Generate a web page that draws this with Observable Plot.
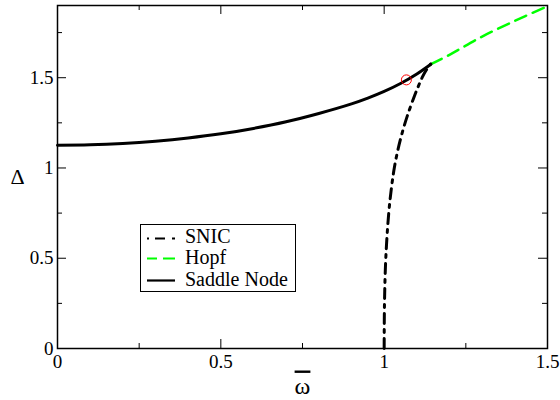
<!DOCTYPE html>
<html>
<head>
<meta charset="utf-8">
<script src="https://cdn.jsdelivr.net/npm/d3@7"></script>
<script src="https://cdn.jsdelivr.net/npm/@observablehq/plot@0.6"></script>
<style>
  body { margin: 0; background: #fff; }
  #chart svg { display: block; }
  #chart svg text { font-family: "Liberation Serif", "Times New Roman", "DejaVu Serif", serif !important; }
</style>
</head>
<body>
<div id="chart"></div>
<script>
// Bifurcation curves in the (omega-bar, Delta) plane
const saddleX = [0, 0.1, 0.2, 0.3, 0.4, 0.5, 0.6, 0.7, 0.8, 0.9, 0.95, 1.0, 1.05, 1.1, 1.143];
const saddleY = [1.126, 1.1285, 1.136, 1.1485, 1.166, 1.189, 1.219, 1.256, 1.302, 1.355, 1.387, 1.424, 1.468, 1.521, 1.575];

const snicX = [1.0, 1.001, 1.005, 1.014, 1.023, 1.031, 1.042, 1.056, 1.073, 1.093, 1.104, 1.116, 1.128, 1.142];
const snicY = [0, 0.25, 0.5, 0.75, 0.9, 1.0, 1.1, 1.2, 1.3, 1.4, 1.45, 1.5, 1.54, 1.575];

const hopfX = [1.143, 1.2, 1.3, 1.4, 1.5, 1.55];
const hopfY = [1.575, 1.627, 1.728, 1.815, 1.895, 1.93];

// Codimension-two point marked on the saddle-node curve
const pointX = [1.068];
const pointY = [1.488];

const xMajor = [0, 0.5, 1, 1.5];
const xMinor = [0.25, 0.75, 1.25];
const yMajor = [0, 0.5, 1, 1.5];
const yMinor = [0.25, 0.75, 1.25, 1.75];

const legendLabels = ["SNIC", "Hopf", "Saddle Node"];

const toRows = (xs, ys) => xs.map((x, i) => ({x, y: ys[i]}));
const saddle = toRows(saddleX, saddleY);
const snic = toRows(snicX, snicY);
const hopf = toRows(hopfX, hopfY);
const point = toRows(pointX, pointY);

const W = 560, H = 400;
const mL = 57, mR = 13, mT = 5, mB = 52;
const innerW = W - mL - mR, innerH = H - mT - mB;
const serif = "'Liberation Serif', 'Times New Roman', 'DejaVu Serif', serif";

const GREEN = "#00ff00";

const plot = Plot.plot({
  width: W,
  height: H,
  marginLeft: mL,
  marginRight: mR,
  marginTop: mT,
  marginBottom: mB,
  style: {fontFamily: serif, fontSize: "19px", color: "black", background: "white", overflow: "visible"},
  x: {domain: [0, 1.5]},
  y: {domain: [0, 1.9]},
  marks: [
    // inward ticks on all four sides
    Plot.tickX(xMajor, {insetTop: innerH - 9, stroke: "black"}),
    Plot.tickX(xMajor, {insetBottom: innerH - 9, stroke: "black"}),
    Plot.tickX(xMinor, {insetTop: innerH - 5, stroke: "black"}),
    Plot.tickX(xMinor, {insetBottom: innerH - 5, stroke: "black"}),
    Plot.tickY(yMajor, {insetRight: innerW - 9, stroke: "black"}),
    Plot.tickY(yMajor, {insetLeft: innerW - 9, stroke: "black"}),
    Plot.tickY(yMinor, {insetRight: innerW - 5, stroke: "black"}),
    Plot.tickY(yMinor, {insetLeft: innerW - 5, stroke: "black"}),
    Plot.axisX({ticks: xMajor, tickSize: 0, tickPadding: 6, tickFormat: d => String(d), label: null}),
    Plot.axisY({ticks: yMajor, tickSize: 0, tickPadding: 4, tickFormat: d => String(d), label: null}),

    Plot.line(hopf, {x: "x", y: "y", stroke: GREEN, strokeWidth: 2.5,
      strokeDasharray: "12,7", curve: "catmull-rom", clip: true}),
    Plot.line(saddle, {x: "x", y: "y", stroke: "black", strokeWidth: 3, curve: "catmull-rom"}),
    Plot.line(snic, {x: "x", y: "y", stroke: "black", strokeWidth: 3,
      strokeDasharray: "10,6,3,6", curve: "catmull-rom"}),
    Plot.dot(point, {x: "x", y: "y", r: 5, stroke: "red", strokeWidth: 1, fill: "none"}),

    Plot.frame({stroke: "black", strokeWidth: 1.5}),

    // axis titles
    Plot.text(["Δ"], {frameAnchor: "left", dx: -40, textAnchor: "middle", lineAnchor: "middle",
      fontSize: 22, fill: "black"}),
    Plot.text(["ω"], {frameAnchor: "bottom", dy: 45, textAnchor: "middle", lineAnchor: "bottom",
      fontSize: 24, fill: "black"})
  ]
});

document.getElementById("chart").appendChild(plot);

// overline on the omega axis title
d3.select(plot).selectAll("text")
  .filter(function() { return this.textContent === "ω"; })
  .style("text-decoration", "overline");

// legend box
const lg = d3.select(plot).append("g")
  .attr("font-family", serif).attr("font-size", 20).attr("text-anchor", "start");
lg.append("rect")
  .attr("x", 140.5).attr("y", 224.5).attr("width", 155).attr("height", 67)
  .attr("fill", "white").attr("stroke", "black").attr("stroke-width", 1);

const legendStyles = [
  {stroke: "black", dash: "2,6,10,7,3", width: 2.2},
  {stroke: GREEN, dash: "10,6,12", width: 2.2},
  {stroke: "black", dash: null, width: 2.2}
];
const rowLine = [238.5, 258.5, 280.5];
const rowText = [243, 264, 286];

legendLabels.forEach((label, i) => {
  const s = legendStyles[i];
  const ln = lg.append("line")
    .attr("x1", 147).attr("x2", 175)
    .attr("y1", rowLine[i]).attr("y2", rowLine[i])
    .attr("stroke", s.stroke).attr("stroke-width", s.width);
  if (s.dash) ln.attr("stroke-dasharray", s.dash);
  lg.append("text").attr("x", 185).attr("y", rowText[i])
    .attr("text-anchor", "start").attr("fill", "black").text(label);
});
</script>
</body>
</html>
